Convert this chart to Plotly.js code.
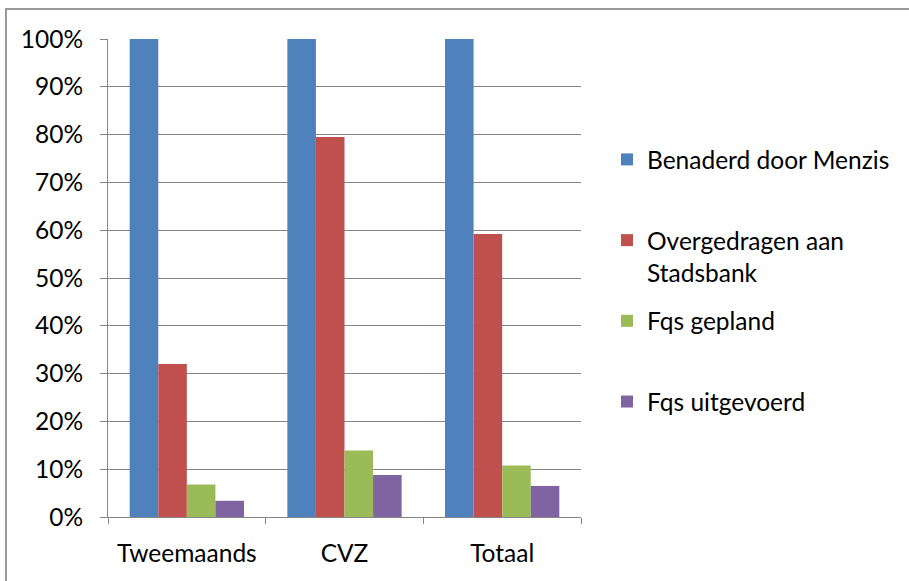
<!DOCTYPE html>
<html><head><meta charset="utf-8">
<script src="https://cdn.plot.ly/plotly-3.0.1.min.js"></script>
<style>
html,body{margin:0;padding:0;background:#fff;}
#chart{position:absolute;left:0;top:0;width:909px;height:581px;}
#frame{position:absolute;left:5px;top:8px;width:904px;height:573px;border-left:2px solid #9a9a9a;border-top:2px solid #9a9a9a;pointer-events:none;box-sizing:border-box;}
</style></head>
<body>
<div id="chart"></div>
<div id="frame"></div>
<script>
const categories = ["Tweemaands", "CVZ", "Totaal"];
const seriesNames = ["Benaderd door Menzis<br> ", "Overgedragen aan<br>Stadsbank", "Fqs gepland<br> ", "Fqs uitgevoerd"];
const benaderd = [100, 100, 100];
const overgedragen = [32, 79.5, 59.2];
const fqsGepland = [6.8, 13.9, 10.8];
const fqsUitgevoerd = [3.4, 8.8, 6.5];
const colors = ["#4F81BD", "#C0504D", "#9BBB59", "#8064A2"];
const yTicks = [0, 10, 20, 30, 40, 50, 60, 70, 80, 90, 100];
const yTickLabels = ["0%", "10%", "20%", "30%", "40%", "50%", "60%", "70%", "80%", "90%", "100%"];

const values = [benaderd, overgedragen, fqsGepland, fqsUitgevoerd];
const FONT = "Lato, 'Open Sans', sans-serif";
const FS = 24.5;
const data = values.map((v, i) => ({
  type: "bar",
  name: seriesNames[i],
  x: categories,
  y: v,
  legendgroup: "g" + i,
  marker: {color: colors[i], line: {width: 0}},
  hoverinfo: "skip"
}));

const layout = {
  width: 909, height: 581,
  margin: {l: 108, r: 328, t: 39, b: 64},
  paper_bgcolor: "rgba(0,0,0,0)", plot_bgcolor: "rgba(0,0,0,0)",
  barmode: "group", bargap: 0.275, bargroupgap: 0,
  font: {family: FONT, size: FS, color: "#000"},
  showlegend: true,
  legend: {
    x: 1.055, xanchor: "left", xref: "paper",
    y: 0.795, yanchor: "top",
    traceorder: "grouped", tracegroupgap: 14,
    valign: "top",
    font: {family: FONT, size: FS, color: "#000"},
    itemwidth: 30
  },
  xaxis: {
    type: "category", tickson: "boundaries",
    showline: true, linecolor: "#868686", linewidth: 1,
    ticks: "outside", ticklen: 6, tickcolor: "#868686",
    showgrid: false, zeroline: false,
    ticklabelstandoff: 15,
    tickfont: {family: FONT, size: FS, color: "#000"}
  },
  yaxis: {
    range: [0, 100], tickmode: "array", tickvals: yTicks, ticktext: yTickLabels,
    showline: true, linecolor: "#868686", linewidth: 1,
    ticks: "outside", ticklen: 7, tickcolor: "#868686",
    showgrid: true, gridcolor: "#868686", gridwidth: 1,
    zeroline: false,
    ticklabelstandoff: 12,
    tickfont: {family: FONT, size: FS, color: "#000"}
  }
};
Plotly.newPlot("chart", data, layout, {displayModeBar: false, staticPlot: true});
</script>
</body></html>
